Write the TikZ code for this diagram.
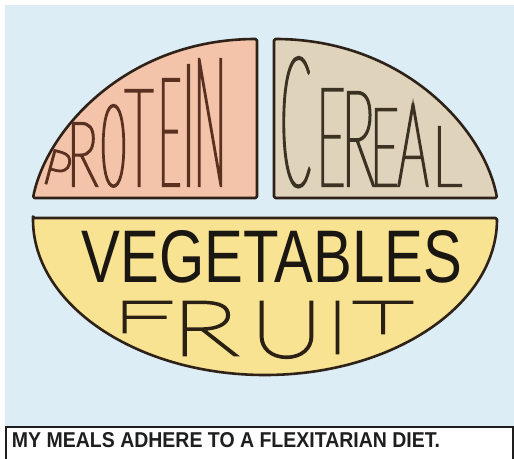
\documentclass[tikz,border=0pt]{standalone}
\usepackage{fontspec}
\usepackage{graphicx}
\setmainfont{Liberation Sans}
\def\handname{DejaVu Sans}\def\handw{0}\def\handwf{0}
\IfFontExistsTF{Lato Hairline}{\def\handname{Lato Hairline}\def\handw{2.3}\def\handwf{2.7}}{%
\IfFontExistsTF{Lato-Hairline.ttf}{\def\handname{[Lato-Hairline.ttf]}\def\handw{2.3}\def\handwf{2.7}}{%
\IfFontExistsTF{Lato Thin}{\def\handname{Lato Thin}\def\handw{1.7}\def\handwf{2.1}}{%
\IfFontExistsTF{Fira Sans Thin}{\def\handname{Fira Sans Thin}\def\handw{1.7}\def\handwf{2.1}}{%
\IfFontExistsTF{FiraSans-Thin.otf}{\def\handname{[FiraSans-Thin.otf]}\def\handw{1.7}\def\handwf{2.1}}{%
\IfFontExistsTF{Noto Sans Thin}{\def\handname{Noto Sans Thin}\def\handw{1.7}\def\handwf{2.1}}{%
\IfFontExistsTF{DejaVu Sans ExtraLight}{\def\handname{DejaVu Sans ExtraLight}\def\handw{1.0}\def\handwf{1.4}}{}}}}}}}
\definecolor{bgblue}{HTML}{DDEDF5}
\definecolor{protc}{HTML}{F3C4AA}
\definecolor{cerc}{HTML}{DFD3BB}
\definecolor{vegc}{HTML}{F8E392}
\definecolor{outc}{HTML}{2E2218}
\definecolor{ptext}{HTML}{5A3020}
\definecolor{ctext}{HTML}{3C3224}
\definecolor{ftext}{HTML}{2A2014}
\definecolor{vtext}{HTML}{1A1612}
\definecolor{captc}{HTML}{1E1E1E}
\newdimen\gA \newdimen\gB \newdimen\gC \newdimen\gD
\makeatletter
\newcommand\HL[3]{\begingroup
  \font\hfm="\handname" at 10pt\relax\hfm
  \setbox0\hbox{#3}\gA=\wd0\relax
  \gB=\XeTeXglyphbounds 1 \XeTeXcharglyph`#3\relax
  \gC=\XeTeXglyphbounds 3 \XeTeXcharglyph`#3\relax
  \gD=\XeTeXglyphbounds 2 \XeTeXcharglyph`#3\relax
  \edef\vA{\strip@pt\gA}\edef\vB{\strip@pt\gB}\edef\vC{\strip@pt\gC}\edef\vD{\strip@pt\gD}%
  \edef\sz{\fpeval{round(10*(#2)/(\vD),3)}}%
  \edef\st{\fpeval{round((#1)*10/(((\vA)-(\vB)-(\vC))*\sz),4)}}%
  \edef\lk{\fpeval{round((\vB)*\sz*\st/10,3)}}%
  \edef\rk{\fpeval{round((\vC)*\sz*\st/10,3)}}%
  \font\hfs="\handname:extend=\st" at \sz pt\relax\hfs
  \makebox[0pt]{\kern-\lk pt\relax #3\kern-\rk pt\relax}%
  \endgroup}
\makeatother
\tikzset{
  outl/.style={draw=outc,line width=2.6pt,line join=round,rounded corners=1.5pt},
  lbl/.style={inner sep=0pt,outer sep=0pt}
}
\begin{document}
\begin{tikzpicture}[x=1pt,y=-1pt]
\useasboundingbox (0,0) rectangle (514,458);
\fill[white] (0,0) rectangle (514,458);
\fill[bgblue] (5,5) rectangle (514,427);
% plate
\path[outl,fill=protc] (257,198) -- (33,198) .. controls (46,130) and (127,39) .. (257,39) -- cycle;
\path[outl,fill=cerc] (274,198) -- (274,39) .. controls (404,39) and (485,130) .. (497,198) -- cycle;
\path[outl,fill=vegc] (33,218) -- (497,218) arc[start angle=0,end angle=180,x radius=232,y radius=157] -- cycle;
% caption box
\fill[white] (6,427) rectangle (514,458);
\draw[captc,line width=2.2pt] (6,460) -- (6,427) -- (513,427) -- (513,460);
% texts
\node[lbl,anchor=base west,text=ptext] (protein) at (46,186) {%
\special{pdf:literal direct 2 Tr \handw\space w}%
\hspace*{13pt}\makebox[0pt]{\rotatebox[origin=c]{-15}{\HL{18}{34}{P}}}%
\hspace*{26pt}\HL{24}{63}{R}%
\hspace*{28.5pt}\HL{21}{81}{O}%
\hspace*{25.5pt}\HL{27}{96}{T}%
\hspace*{32pt}\HL{16}{107}{E}%
\hspace*{17.5pt}\HL{1}{121}{I}%
\hspace*{21.5pt}\HL{22}{127}{N}%
\hspace*{13pt}%
\special{pdf:literal direct 0 Tr}};
\node[lbl,anchor=base west,text=ctext] (cereal) at (283,186) {%
\special{pdf:literal direct 2 Tr \handw\space w}%
\hspace*{13.5pt}\HL{26}{129}{C}%
\hspace*{36pt}\HL{20}{97}{E}%
\hspace*{28.5pt}\HL{26}{94}{R}%
\hspace*{25pt}\HL{20}{77}{E}%
\hspace*{27pt}\HL{29}{82}{A}%
\hspace*{37pt}\HL{22}{59}{L}%
\hspace*{12pt}%
\special{pdf:literal direct 0 Tr}};
\node[lbl,anchor=base,text=vtext] (veg) at (272,282) {\resizebox{380pt}{52pt}{VEGETABLES}};
\node[lbl,anchor=base west,text=ftext] (fruit) at (123,357) {%
\special{pdf:literal direct 2 Tr \handwf\space w}%
\hspace*{24.5pt}\raisebox{25pt}{\HL{47}{30}{F}}%
\hspace*{62.5pt}\raisebox{2pt}{\HL{52}{53}{R}}%
\hspace*{76.5pt}\HL{51}{55}{U}%
\hspace*{51pt}\raisebox{4pt}{\HL{1.2}{51}{I}}%
\hspace*{45.5pt}\raisebox{24pt}{\HL{58}{31}{T}}%
\hspace*{30pt}%
\special{pdf:literal direct 0 Tr}};
\node[lbl,anchor=base west,text=captc] (caption) at (12,447) {\resizebox{428pt}{15pt}{\bfseries MY MEALS ADHERE TO A FLEXITARIAN DIET.}};
\end{tikzpicture}
\end{document}
